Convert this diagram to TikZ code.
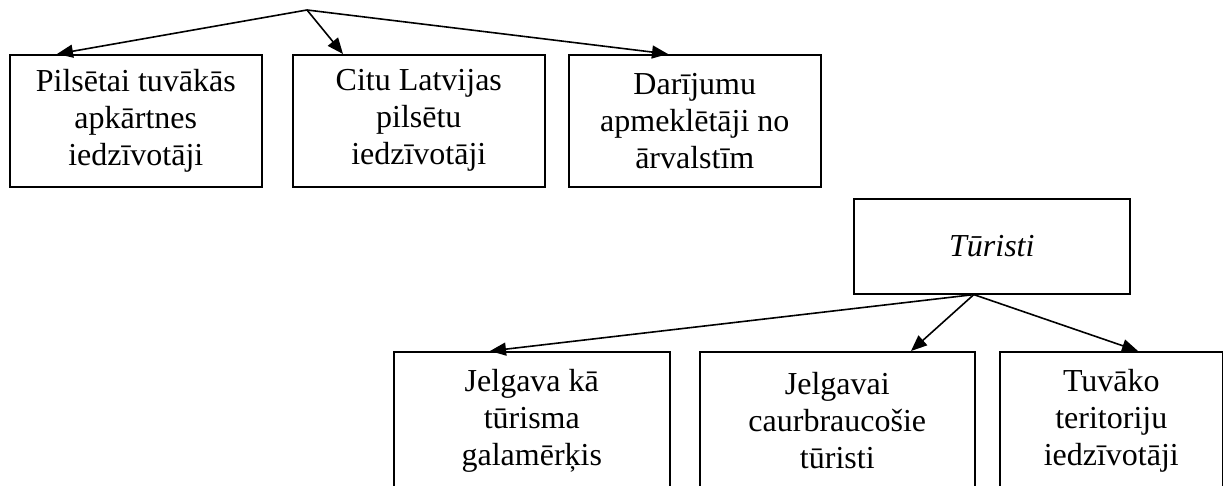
\documentclass[tikz,border=0pt]{standalone}
\usepackage{fontspec}
\setmainfont{Liberation Serif}
\usetikzlibrary{arrows.meta}
\begin{document}
\begin{tikzpicture}[x=1pt,y=1pt,
  box/.style={draw=black, line width=1.6pt, rectangle, inner sep=0pt, anchor=north west,
    align=center, font=\fontsize{32}{37}\selectfont},
  conn/.style={draw=black, line width=1.6pt, -{Triangle[length=16pt,width=13pt]}}]
\useasboundingbox (0,0) rectangle (1223,486);
\fill[white] (0,0) rectangle (1223,486);
% top row
\node[box, minimum width=252pt, minimum height=132pt] (b1) at (9,432)
  {Pilsētai tuvākās\\apkārtnes\\iedzīvotāji};
\node[box, minimum width=252pt, minimum height=132pt] (b2) at (292,432)
  {Citu Latvijas\\pilsētu\\iedzīvotāji};
\node[box, minimum width=252pt, minimum height=132pt] (b3) at (568,432)
  {Darījumu\\apmeklētāji no\\ārvalstīm};
\coordinate (top) at (307,476);
\draw[conn] (top) -- ([xshift=48pt]b1.north west);
\draw[conn] (top) -- ([xshift=51pt]b2.north west);
\draw[conn] (top) -- ([xshift=100pt]b3.north west);
% tourists
\node[box, minimum width=276pt, minimum height=95pt] (tur) at (853,288)
  {\itshape Tūristi};
\coordinate (tapex) at ([xshift=-18pt]tur.south);
\node[box, minimum width=276pt, minimum height=138pt] (c1) at (393,135)
  {Jelgava kā\\tūrisma\\galamērķis};
\node[box, minimum width=275pt, minimum height=138pt] (c2) at (699,135)
  {Jelgavai\\caurbraucošie\\tūristi};
\node[box, minimum width=223pt, minimum height=138pt] (c3) at (999,135)
  {Tuvāko\\teritoriju\\iedzīvotāji};
\draw[conn] (tapex) -- ([xshift=97pt]c1.north west);
\draw[conn] (tapex) -- ([xshift=212pt]c2.north west);
\draw[conn] (tapex) -- ([xshift=139pt]c3.north west);
\end{tikzpicture}
\end{document}
